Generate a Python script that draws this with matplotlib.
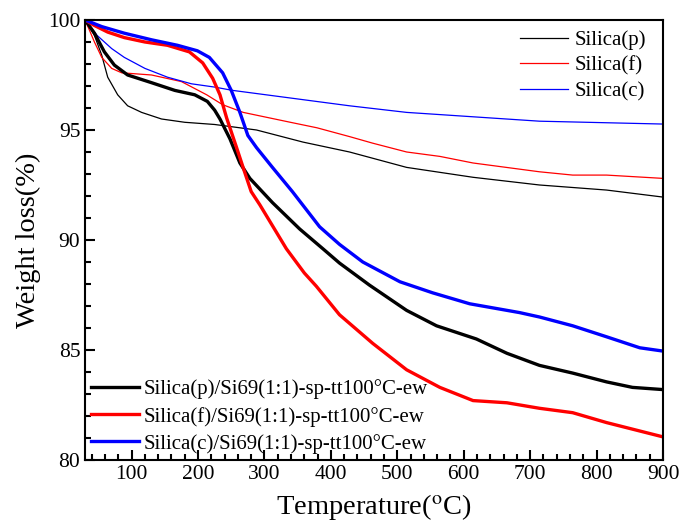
import numpy as np
import matplotlib.pyplot as plt
from matplotlib.ticker import MultipleLocator

plt.rcParams['font.family'] = ['Liberation Serif', 'DejaVu Serif']
plt.rcParams['mathtext.fontset'] = 'stix'

# thin lines: bare silica
sp_t = [30, 44, 55, 64, 79, 94, 115, 145, 180, 225, 288, 358, 428, 514, 614, 714, 815, 900]
sp_w = [100, 99.3, 98.4, 97.4, 96.6, 96.1, 95.8, 95.5, 95.35, 95.25, 95.0, 94.45, 94.0, 93.3, 92.85, 92.5, 92.27, 91.95]

sf_t = [30, 44, 55, 70, 85, 130, 175, 213, 237, 268, 339, 379, 428, 463, 514, 564, 614, 714, 764, 815, 900]
sf_w = [100, 99.0, 98.3, 97.8, 97.6, 97.5, 97.2, 96.6, 96.15, 95.8, 95.35, 95.1, 94.7, 94.4, 94.0, 93.8, 93.5, 93.1, 92.95, 92.95, 92.8]

sc_t = [30, 48, 70, 89, 120, 154, 190, 225, 252, 428, 514, 614, 714, 900]
sc_w = [100, 99.3, 98.7, 98.3, 97.8, 97.4, 97.1, 96.95, 96.8, 96.1, 95.8, 95.6, 95.4, 95.27]

# thick lines: Si69 modified
mp_t = [30, 44, 59, 74, 94, 130, 165, 195, 214, 225, 233, 248, 263, 278, 312, 353, 388, 413, 458, 514, 559, 619, 665, 714, 764, 815, 854, 900]
mp_w = [100, 99.4, 98.55, 97.95, 97.5, 97.15, 96.8, 96.6, 96.3, 95.9, 95.5, 94.6, 93.5, 92.8, 91.7, 90.5, 89.6, 88.95, 87.95, 86.8, 86.1, 85.5, 84.85, 84.3, 83.95, 83.55, 83.3, 83.2]

mf_t = [30, 44, 64, 89, 120, 154, 187, 207, 222, 233, 243, 258, 270, 280, 293, 311, 333, 360, 378, 413, 463, 514, 564, 614, 665, 714, 764, 815, 900]
mf_w = [100, 99.75, 99.45, 99.2, 99.0, 98.85, 98.55, 98.05, 97.35, 96.6, 95.55, 94.2, 93.1, 92.2, 91.6, 90.7, 89.6, 88.5, 87.9, 86.6, 85.3, 84.1, 83.3, 82.7, 82.6, 82.35, 82.15, 81.7, 81.05]

mc_t = [30, 55, 89, 130, 169, 199, 217, 237, 250, 263, 275, 288, 312, 342, 383, 413, 448, 504, 553, 609, 684, 714, 764, 815, 865, 900]
mc_w = [100, 99.7, 99.4, 99.1, 98.85, 98.6, 98.3, 97.6, 96.8, 95.8, 94.75, 94.2, 93.3, 92.2, 90.6, 89.8, 89.0, 88.1, 87.6, 87.1, 86.7, 86.5, 86.1, 85.6, 85.1, 84.95]

fig = plt.figure(figsize=(6.81, 5.22), dpi=100)
ax = fig.add_axes([0.125, 0.1188, 0.8486, 0.8429])

l1, = ax.plot(sp_t, sp_w, color='black', lw=0.9, label='Silica(p)')
l2, = ax.plot(sf_t, sf_w, color='red', lw=0.9, label='Silica(f)')
l3, = ax.plot(sc_t, sc_w, color='blue', lw=0.9, label='Silica(c)')
m1, = ax.plot(mp_t, mp_w, color='black', lw=2.4, label='Silica(p)/Si69(1:1)-sp-tt100°C-ew')
m2, = ax.plot(mf_t, mf_w, color='red', lw=2.4, label='Silica(f)/Si69(1:1)-sp-tt100°C-ew')
m3, = ax.plot(mc_t, mc_w, color='blue', lw=2.4, label='Silica(c)/Si69(1:1)-sp-tt100°C-ew')

ax.set_xlim(30, 900)
ax.set_ylim(80, 100)
ax.xaxis.set_major_locator(MultipleLocator(100))
ax.xaxis.set_minor_locator(MultipleLocator(20))
ax.yaxis.set_major_locator(MultipleLocator(5))
ax.yaxis.set_minor_locator(MultipleLocator(1))
ax.tick_params(which='both', direction='in', top=False, right=False, labelsize=15.5, width=1.5)
ax.tick_params(which='major', length=7)
ax.tick_params(which='minor', length=4)
for s in ax.spines.values():
    s.set_linewidth(1.5)

ax.set_xlabel('Temperature($^{\\rm o}$C)', fontsize=20.5, labelpad=6)
ax.set_ylabel('Weight loss(%)', fontsize=20.5, labelpad=5)

leg1 = ax.legend(handles=[l1, l2, l3], loc='upper right', bbox_to_anchor=(0.981, 0.991),
                 frameon=False, fontsize=15, handlelength=2.3, borderaxespad=0.1,
                 borderpad=0.2, labelspacing=0.3, handletextpad=0.3)
ax.add_artist(leg1)
ax.legend(handles=[m1, m2, m3], loc='lower left', frameon=False, fontsize=15,
          handlelength=2.3, borderaxespad=0.1, borderpad=0.2,
          labelspacing=0.35, handletextpad=0.2)

fig.savefig('out.png', dpi=100)
